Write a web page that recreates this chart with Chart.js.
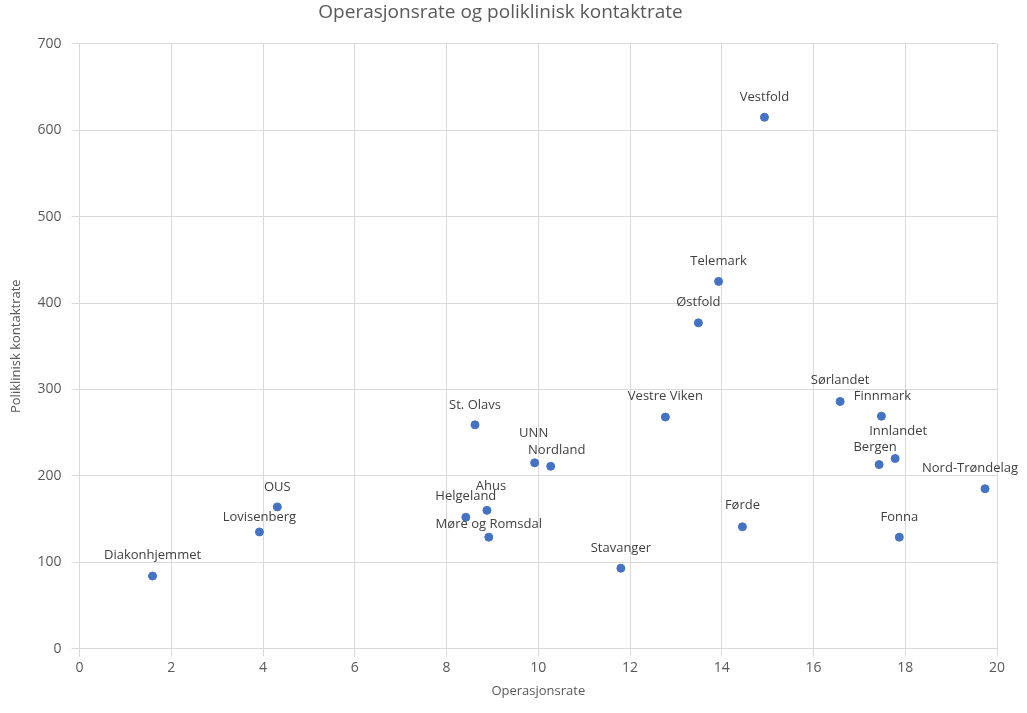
<!DOCTYPE html>
<html>
<head>
<meta charset="utf-8">
<script src="https://cdn.jsdelivr.net/npm/chart.js@4"></script>
<style>body{margin:0;background:#fff}</style>
</head>
<body>
<canvas id="chart" width="1027" height="713"></canvas>
<script>
const names = ['Diakonhjemmet','Lovisenberg','OUS','Helgeland','Ahus','Møre og Romsdal','St. Olavs','UNN','Nordland','Stavanger','Vestre Viken','Østfold','Telemark','Vestfold','Førde','Sørlandet','Finnmark','Bergen','Innlandet','Fonna','Nord-Trøndelag'];
const operasjonsrate = [1.59,3.92,4.31,8.42,8.88,8.92,8.62,9.92,10.27,11.8,12.77,13.49,13.93,14.93,14.45,16.58,17.48,17.43,17.78,17.87,19.74];
const kontaktrate = [84,135,164,152,160,129,259,215,211,93,268,377,425,615,141,286,269,213,220,129,185];
// label offsets in pixels relative to the point
const labelDx = [0,0,0,0,4,0,0,-1,6,0,0,0,0,0,0,0,1,-4,3,0,-15];
const labelDy = [-21,-15,-20,-21,-24,-13,-20,-30,-16,-20,-21,-21,-20,-20,-21,-21,-20,-17,-27,-20,-20];

const pointLabels = {
  id: 'pointLabels',
  afterDatasetsDraw(chart) {
    const ctx = chart.ctx;
    const meta = chart.getDatasetMeta(0);
    ctx.save();
    ctx.font = '13px "Open Sans", sans-serif';
    ctx.fillStyle = '#404040';
    ctx.textAlign = 'center';
    ctx.textBaseline = 'middle';
    meta.data.forEach((pt, i) => {
      ctx.fillText(names[i], pt.x + labelDx[i], pt.y + labelDy[i]);
    });
    ctx.restore();
  }
};

new Chart(document.getElementById('chart'), {
  type: 'scatter',
  data: {
    datasets: [{
      data: operasjonsrate.map((x, i) => ({x: x, y: kontaktrate[i]})),
      backgroundColor: '#4472C4',
      borderColor: '#4472C4',
      pointRadius: 4
    }]
  },
  options: {
    responsive: false,
    animation: false,
    layout: {padding: {left: 4, right: 30, top: 1, bottom: 10}},
    plugins: {
      legend: {display: false},
      tooltip: {enabled: false},
      title: {
        display: true,
        text: 'Operasjonsrate og poliklinisk kontaktrate',
        color: '#595959',
        font: {family: '"Open Sans", sans-serif', size: 19, weight: 'normal'},
        padding: {top: 0, bottom: 20}
      }
    },
    scales: {
      x: {
        min: 0, max: 20,
        ticks: {stepSize: 2, color: '#595959', font: {family: '"Open Sans", sans-serif', size: 14}},
        grid: {color: '#d9d9d9'},
        border: {display: false},
        title: {display: true, text: 'Operasjonsrate', color: '#595959', font: {family: '"Open Sans", sans-serif', size: 13}}
      },
      y: {
        min: 0, max: 700,
        ticks: {stepSize: 100, color: '#595959', padding: 10, font: {family: '"Open Sans", sans-serif', size: 14}},
        grid: {color: '#d9d9d9'},
        border: {display: false},
        title: {display: true, text: 'Poliklinisk kontaktrate', color: '#595959', font: {family: '"Open Sans", sans-serif', size: 13}}
      }
    }
  },
  plugins: [pointLabels]
});
</script>
</body>
</html>
